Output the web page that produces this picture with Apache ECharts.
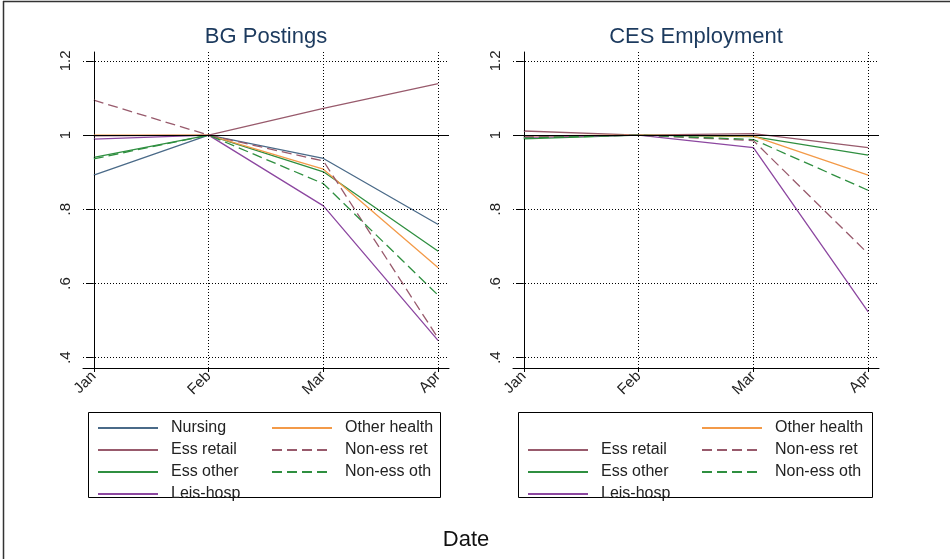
<!DOCTYPE html>
<html>
<head>
<meta charset="utf-8">
<script src="https://cdn.jsdelivr.net/npm/echarts@6/dist/echarts.min.js"></script>
<style>
  html, body { margin: 0; padding: 0; background: #fff; }
  #c { width: 950px; height: 559px; }
</style>
</head>
<body>
<div id="c"></div>
<script>
// Month categories and y-axis ticks
const months = ['Jan', 'Feb', 'Mar', 'Apr'];
const yTicks = [0.4, 0.6, 0.8, 1.2];
const refLevel = 1;

// BG Postings (index, Feb = 1)
const bgNursing     = [0.892, 1, 0.937, 0.759];
const bgEssRetail   = [0.998, 1, 1.072, 1.139];
const bgEssOther    = [0.940, 1, 0.901, 0.687];
const bgLeisHosp    = [0.989, 1, 0.809, 0.446];
const bgOtherHealth = [1.000, 1, 0.908, 0.642];
const bgNonEssRet   = [1.094, 1, 0.930, 0.452];
const bgNonEssOth   = [0.936, 1, 0.869, 0.568];

// CES Employment (index, Feb = 1)
const cesEssRetail   = [1.011, 1, 1.004, 0.966];
const cesEssOther    = [0.990, 1, 0.996, 0.946];
const cesLeisHosp    = [0.994, 1, 0.966, 0.523];
const cesOtherHealth = [0.998, 1, 0.997, 0.892];
const cesNonEssRet   = [0.995, 1, 0.985, 0.680];
const cesNonEssOth   = [0.992, 1, 0.988, 0.851];

const FONT = "'Liberation Sans', Arial, Helvetica, sans-serif";
const COLORS = {
  'Nursing': '#4a6a88',
  'Ess retail': '#985a6c',
  'Ess other': '#2f8f40',
  'Leis-hosp': '#8c47a0',
  'Other health': '#f39a48',
  'Non-ess ret': '#985a6c',
  'Non-ess oth': '#2f8f40'
};
const DASHED = { 'Non-ess ret': true, 'Non-ess oth': true };

const panels = [
  {
    title: 'BG Postings',
    series: [
      ['Nursing', bgNursing], ['Ess retail', bgEssRetail], ['Ess other', bgEssOther],
      ['Leis-hosp', bgLeisHosp], ['Other health', bgOtherHealth],
      ['Non-ess ret', bgNonEssRet], ['Non-ess oth', bgNonEssOth]
    ]
  },
  {
    title: 'CES Employment',
    series: [
      ['Ess retail', cesEssRetail], ['Ess other', cesEssOther], ['Leis-hosp', cesLeisHosp],
      ['Other health', cesOtherHealth], ['Non-ess ret', cesNonEssRet], ['Non-ess oth', cesNonEssOth]
    ]
  }
];

const gridLeft = [83, 513];
const gridTop = 52, gridW = 366, gridH = 316;

const fmtY = v => (Math.abs(v - 1) < 1e-9 ? '1' : (v < 1 ? v.toFixed(1).replace(/^0/, '') : v.toFixed(1)));
const monthIdx = months.map((m, i) => i);

const grids = [], xAxes = [], yAxes = [], series = [], graphics = [];

panels.forEach((p, i) => {
  grids.push({ left: gridLeft[i], top: gridTop, width: gridW, height: gridH });
  xAxes.push({
    gridIndex: i, type: 'value', min: -0.094, max: 3.094,
    axisLine: { show: true, lineStyle: { color: '#000', width: 1 } },
    axisTick: { show: true, customValues: monthIdx, length: 4, lineStyle: { color: '#000' } },
    axisLabel: {
      customValues: monthIdx, rotate: 45, margin: 6,
      formatter: v => months[Math.round(v)],
      fontSize: 15, color: '#222', fontFamily: FONT
    },
    splitLine: { show: false }
  });
  yAxes.push({
    gridIndex: i, type: 'value', min: 0.372, max: 1.224,
    axisLine: { show: true, lineStyle: { color: '#000', width: 1 } },
    axisTick: { show: true, customValues: yTicks.concat([refLevel]), length: 7, lineStyle: { color: '#000' } },
    axisLabel: {
      customValues: yTicks.concat([refLevel]), rotate: 90, margin: 10,
      formatter: fmtY, fontSize: 15, color: '#222', fontFamily: FONT
    },
    splitLine: { show: false }
  });

  // Reference grid: dotted lines at months and ticks, solid line at 1
  const dotted = { type: [1, 2], color: '#000', width: 1 };
  series.push({
    type: 'line', xAxisIndex: i, yAxisIndex: i, data: [], silent: true, z: 1,
    markLine: {
      silent: true, symbol: ['none', 'none'], label: { show: false }, animation: false,
      data: monthIdx.map(k => ({ xAxis: k, lineStyle: dotted }))
        .concat(yTicks.map(v => ({ yAxis: v, lineStyle: dotted })))
        .concat([{ yAxis: refLevel, lineStyle: { type: 'solid', color: '#000', width: 1 } }])
    }
  });

  p.series.forEach(([name, vals]) => {
    series.push({
      name, type: 'line', xAxisIndex: i, yAxisIndex: i, z: 3,
      data: vals.map((v, k) => [k, v]),
      symbol: 'none', showSymbol: false, animation: false,
      color: COLORS[name],
      lineStyle: { color: COLORS[name], width: 1.3, type: DASHED[name] ? [10, 5] : 'solid' }
    });
  });

  graphics.push({
    type: 'text', x: gridLeft[i] + gridW / 2, y: 37,
    style: { text: p.title, fontSize: 22, fontFamily: FONT, fill: '#1c3a5e', align: 'center', verticalAlign: 'middle' }
  });
});

// Legend boxes, outer frame and x-axis title
graphics.push(
  { type: 'rect', shape: { x: 88.5, y: 412.5, width: 352, height: 85 }, style: { fill: 'none', stroke: '#000', lineWidth: 1 } },
  { type: 'rect', shape: { x: 518.5, y: 412.5, width: 354, height: 85 }, style: { fill: 'none', stroke: '#000', lineWidth: 1 } },
  { type: 'line', shape: { x1: 3, y1: 1.5, x2: 950, y2: 1.5 }, style: { stroke: '#333', lineWidth: 1.5 } },
  { type: 'line', shape: { x1: 3.5, y1: 1, x2: 3.5, y2: 559 }, style: { stroke: '#333', lineWidth: 1.5 } },
  { type: 'text', x: 466, y: 540, style: { text: 'Date', fontSize: 22, fontFamily: FONT, fill: '#111', align: 'center', verticalAlign: 'middle' } }
);

const legendBase = {
  orient: 'vertical', itemWidth: 60, itemHeight: 14, itemGap: 4, padding: 0,
  selectedMode: false,
  itemStyle: { opacity: 0, borderWidth: 0 },
  textStyle: { fontSize: 16, lineHeight: 18, color: '#222', fontFamily: FONT, padding: [0, 0, 0, 8] }
};
const legends = [
  Object.assign({}, legendBase, { left: 97, top: 419, data: ['Nursing', 'Ess retail', 'Ess other', 'Leis-hosp'] }),
  Object.assign({}, legendBase, { left: 271, top: 419, data: ['Other health', 'Non-ess ret', 'Non-ess oth'] }),
  Object.assign({}, legendBase, { left: 527, top: 441, data: ['Ess retail', 'Ess other', 'Leis-hosp'] }),
  Object.assign({}, legendBase, { left: 701, top: 419, data: ['Other health', 'Non-ess ret', 'Non-ess oth'] })
];

const chart = echarts.init(document.getElementById('c'), null, { renderer: 'canvas' });
chart.setOption({
  backgroundColor: '#fff',
  animation: false,
  grid: grids,
  xAxis: xAxes,
  yAxis: yAxes,
  legend: legends,
  series: series,
  graphic: graphics
});
</script>
</body>
</html>
